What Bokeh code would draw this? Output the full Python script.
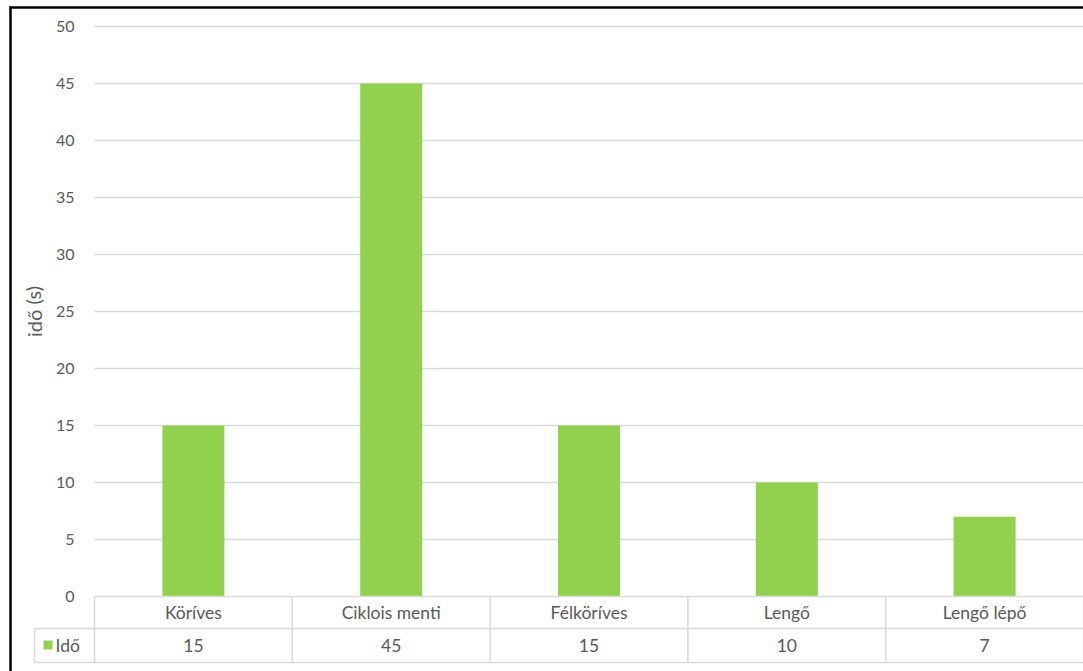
from bokeh.plotting import figure
from bokeh.models import ColumnDataSource, Range1d
from bokeh.core.properties import value
from bokeh.embed import file_html
from bokeh.resources import INLINE

categories = ["Köríves", "Ciklois menti", "Félköríves", "Lengő", "Lengő lépő"]
values = [15, 45, 15, 10, 7]
y_ticks = [0, 5, 10, 15, 20, 25, 30, 35, 40, 45, 50]
series_name = "Idő"
y_label = "idő (s)"

W, H = 1083, 671
X0_PX, X1_PX = 94, 1083      # plot area left/right in pixels
Y0_PX, PX_PER_UNIT = 596, 11.4
n = len(categories)
PX_PER_CAT = (X1_PX - X0_PX) / n

def dx(px):
    return (px - X0_PX) / PX_PER_CAT

def dy(py):
    return (Y0_PX - py) / PX_PER_UNIT

GREY = "#595959"
GRID = "#d9d9d9"
GREEN = "#92d050"
FONT = value("Lato")

p = figure(width=W, height=H, output_backend="svg", toolbar_location=None,
           x_range=Range1d(dx(0), dx(W)), y_range=Range1d(dy(H), dy(0)),
           min_border=0, min_border_left=0, min_border_right=0,
           min_border_top=0, min_border_bottom=0)
p.axis.visible = False
p.grid.visible = False
p.outline_line_color = None
p.background_fill_color = "white"
p.border_fill_color = "white"

# gridlines
gl = [t for t in y_ticks if t > 0]
p.segment(x0=[0] * len(gl), x1=[n] * len(gl), y0=gl, y1=gl, line_color=GRID, line_width=1.3)

# y tick labels
p.text(x=[dx(74)] * len(y_ticks), y=y_ticks, text=[str(t) for t in y_ticks],
       text_align="right", text_baseline="middle", text_font=FONT,
       text_font_size="16px", text_color=GREY)

# y label
p.text(x=[dx(33)], y=[dy(311)], text=[y_label], angle=1.5708, text_align="center",
       text_baseline="middle", text_font=FONT, text_font_size="20px", text_color=GREY)

# bars
xs = [i + 0.5 for i in range(n)]
src = ColumnDataSource(dict(x=xs, top=values, cat=categories))
p.vbar(x="x", top="top", bottom=0, width=62 / PX_PER_CAT, source=src,
       fill_color=GREEN, line_color=None)

# data table lines
row1, row2 = dy(628), dy(662)
p.segment(x0=[0, dx(34), dx(34)], x1=[n, n, n], y0=[0, row1, row2], y1=[0, row1, row2],
          line_color=GRID, line_width=1.5)
vx = list(range(n + 1))
p.segment(x0=vx, x1=vx, y0=[0] * len(vx), y1=[row2] * len(vx), line_color=GRID, line_width=1.5)
p.segment(x0=[dx(34)], x1=[dx(34)], y0=[row1], y1=[row2], line_color=GRID, line_width=1.5)

# table texts
p.text(x=xs, y=[dy(612)] * n, text=categories, text_align="center", text_baseline="middle",
       text_font=FONT, text_font_size="17.5px", text_color=GREY)
p.text(x=xs, y=[dy(645)] * n, text=[str(v) for v in values], text_align="center",
       text_baseline="middle", text_font=FONT, text_font_size="17.5px", text_color=GREY)

# legend key
p.quad(left=[dx(43)], right=[dx(52)], bottom=[dy(649)], top=[dy(640)], fill_color=GREEN, line_color=None)
p.text(x=[dx(55)], y=[dy(645)], text=[series_name], text_align="left", text_baseline="middle",
       text_font=FONT, text_font_size="17.5px", text_color=GREY)

# outer black border (left and top)
p.segment(x0=[dx(10), dx(9)], x1=[dx(10), dx(W)], y0=[dy(6), dy(7)], y1=[dy(H), dy(7)],
          line_color="black", line_width=2.5)

open("out.html", "w").write(file_html(p, INLINE))
